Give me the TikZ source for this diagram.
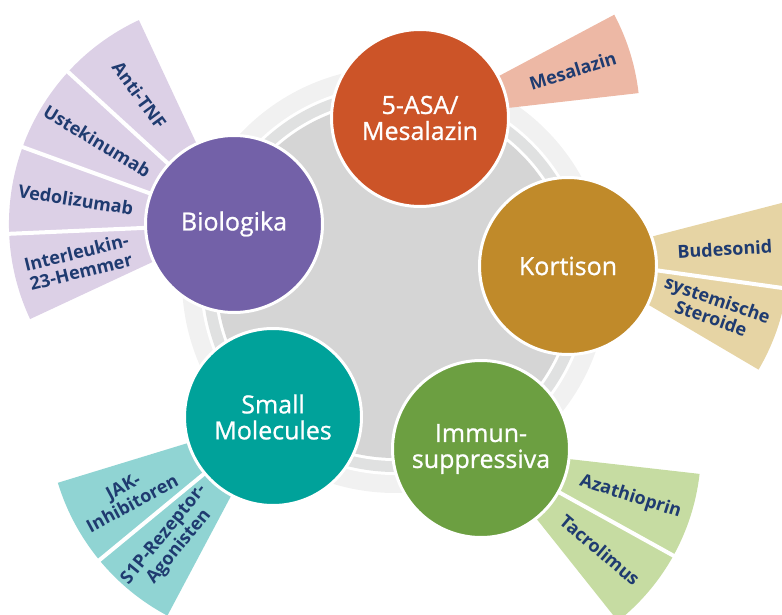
\documentclass[tikz,border=0pt]{standalone}
\usepackage{fontspec}
\setmainfont{Open Sans}
\newfontfamily\drugfont[FakeBold=0.9]{Open Sans}
\usepackage{tikz}

\definecolor{asa}{HTML}{CC5428}
\definecolor{asafan}{HTML}{EDB8A5}
\definecolor{bio}{HTML}{7361A8}
\definecolor{biofan}{HTML}{DCD0E6}
\definecolor{kort}{HTML}{C08A2A}
\definecolor{kortfan}{HTML}{E6D4A4}
\definecolor{small}{HTML}{00A29A}
\definecolor{smallfan}{HTML}{90D4D3}
\definecolor{immun}{HTML}{6C9F41}
\definecolor{immunfan}{HTML}{C6DCA2}
\definecolor{navy}{HTML}{1F3B70}
\definecolor{disk}{HTML}{D5D5D5}
\definecolor{ringa}{HTML}{E0E1E1}
\definecolor{ringb}{HTML}{F1F1F1}

\begin{document}
\begin{tikzpicture}[
            x = 1pt, y = 1pt, % one unit per pixel of the reference
            drug/.style = {circle, draw = white, line width = 3pt,
                minimum size = 177pt, inner sep = 0pt, align = center,
                text = white, font = \drugfont\fontsize{25}{26}\selectfont},
            sub/.style = {align = center, text = navy,
                font = \bfseries\fontsize{18}{19.5}\selectfont},
            gap/.style = {draw = white, line width = 4pt} % white cut between slices
        ]
        \useasboundingbox (0,0) rectangle (782,614);
        \clip (0,0) rectangle (782,614);

        % centres
        \coordinate (mid) at (395,334);
        \coordinate (asac) at (420,496);
        \coordinate (bioc) at (234,390);
        \coordinate (kortc) at (568,348);
        \coordinate (kortf) at (569,356);
        \coordinate (smallc) at (273,197);
        \coordinate (immunc) at (481,165);

        % rings in the middle
        \fill[ringb] (mid) circle (213);
        \fill[white] (mid) circle (195);
        \fill[ringa] (mid) circle (192);
        \fill[white] (mid) circle (181);
        \fill[disk] (mid) circle (178);

        % fans
        \fill[asafan] (asac) -- ++(6.5:220) arc[start angle=6.5, end angle=28, radius=220] -- cycle;
        \fill[biofan] (bioc) -- ++(115:225) arc[start angle=115, end angle=205, radius=225] -- cycle;
        \fill[kortfan] (kortf) -- ++(-30.5:220) arc[start angle=-30.5, end angle=14.5, radius=220] -- cycle;
        \fill[immunfan] (immunc) -- ++(-51.5:220) arc[start angle=-51.5, end angle=-6.5, radius=220] -- cycle;
        \fill[smallfan] (smallc) -- ++(197:225) arc[start angle=197, end angle=242, radius=225] -- cycle;

        \path[gap] (bioc) -- ++(137.5:226);
        \path[gap] (bioc) -- ++(160:226);
        \path[gap] (bioc) -- ++(182.5:226);
        \path[gap] (kortf) -- ++(-8:222);
        \path[gap] (immunc) -- ++(-29:222);
        \path[gap] (smallc) -- ++(219.5:226);

        % fan labels
        \node[sub, rotate=17.25] (mesa) at ([shift={(17.25:160)}]asac) {Mesalazin};
        \node[sub, rotate=-53.75] (antitnf) at ([shift={(126.25:160)}]bioc) {Anti-TNF};
        \node[sub, rotate=-31.25] (uste) at ([shift={(148.75:160)}]bioc) {Ustekinumab};
        \node[sub, rotate=-8.75] (vedo) at ([shift={(171.25:160)}]bioc) {Vedolizumab};
        \node[sub, rotate=13.75] (il23) at ([shift={(193.75:160)}]bioc) {Interleukin-\\23-Hemmer};
        \node[sub, rotate=3.25] (budes) at ([shift={(3.25:156)}]kortf) {Budesonid};
        \node[sub, rotate=-19.25] (sterd) at ([shift={(-19.25:154)}]kortf) {systemische\\Steroide};
        \node[sub, rotate=-17.75] (azat) at ([shift={(-17.75:157)}]immunc) {Azathioprin};
        \node[sub, rotate=-40.25] (tacro) at ([shift={(-40.25:156)}]immunc) {Tacrolimus};
        \node[sub, rotate=28.25] (jak) at ([shift={(208.25:165)}]smallc) {JAK-\\Inhibitoren};
        \node[sub, rotate=50.75] (s1p) at ([shift={(230.75:160)}]smallc) {S1P-Rezeptor-\\Agonisten};

        % drug groups
        \node[drug, fill = asa] (asa) at (asac) {5-ASA/\\Mesalazin};
        \node[drug, fill = bio] (biol) at (bioc) {Biologika};
        \node[drug, fill = kort] (kortison) at (kortc) {Kortison};
        \node[drug, fill = small] (smallmol) at (smallc) {Small\\Molecules};
        \node[drug, fill = immun] (immunsup) at (immunc) {Immun-\\suppressiva};
    \end{tikzpicture}
\end{document}
